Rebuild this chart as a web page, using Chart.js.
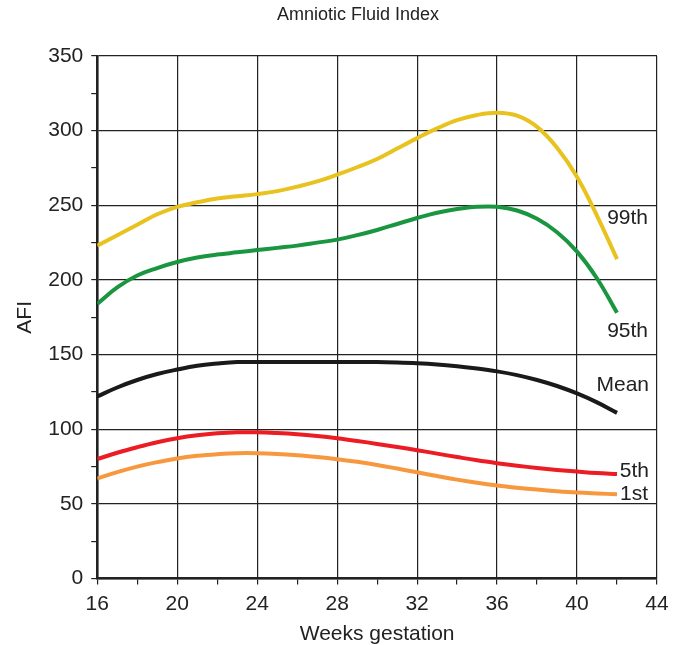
<!DOCTYPE html>
<html>
<head>
<meta charset="utf-8">
<script src="https://cdn.jsdelivr.net/npm/chart.js@4/dist/chart.umd.min.js"></script>
<style>
    html, body { margin: 0; padding: 0; background: #fff; }
    #wrap { width: 679px; height: 645px; }
</style>
</head>
<body>
<div id="wrap"><canvas id="afi"></canvas></div>
<script>
    // weeks of gestation
    var weeks = [16, 17, 18, 19, 20, 21, 22, 23, 24, 25, 26, 27, 28, 29, 30, 31, 32, 33, 34, 35, 36, 37, 38, 39, 40, 41, 42];

    // AFI centiles (mm)
    var p99 = [223, 230, 237, 244, 249, 252, 254.5, 256, 257.5, 259.5, 262.5, 266, 270.5, 275.5, 281, 288, 295, 301.5, 307, 310.5, 312, 310, 302.5, 288.5, 269, 243, 214];
    var p95 = [184, 195, 203, 208, 212, 215, 217, 218.5, 220, 221.5, 223, 225, 227, 230, 233.5, 237.5, 241.5, 245, 247.5, 249, 249, 246.5, 241, 232, 219, 201, 178];
    var mean = [122, 128, 133, 137, 140, 142.5, 144, 145, 145, 145, 145, 145, 145, 145, 145, 144.7, 144.2, 143.4, 142.2, 140.7, 138.8, 136.3, 133, 129, 124, 118, 111];
    var p5 = [80, 84.3, 88, 91.3, 94, 96, 97.3, 98, 98, 97.5, 96.7, 95.5, 94, 92.2, 90.2, 88.1, 86, 83.7, 81.4, 79.2, 77.3, 75.6, 74.1, 72.8, 71.7, 70.7, 70];
    var p1 = [67, 71.3, 75, 78, 80.5, 82.2, 83.3, 84, 84, 83.5, 82.6, 81.4, 80, 78.2, 76.1, 73.7, 71.2, 68.7, 66.3, 64.2, 62.4, 60.9, 59.6, 58.5, 57.6, 57, 56.5];

    // end labels: text, week, value
    var labelText = ['99th', '95th', 'Mean', '5th', '1st'];
    var labelWeek = [43.55, 43.55, 43.6, 43.6, 43.55];
    var labelValue = [241.5, 166, 129.5, 72, 56.5];

    var xTicks = [16, 20, 24, 28, 32, 36, 40, 44];
    var yTicks = [0, 50, 100, 150, 200, 250, 300, 350];

    var FONT = '"Liberation Sans", Arial, Helvetica, sans-serif';
    var INK = '#222';

    function points(values) {
        return weeks.map(function (w, i) {
            return {x: w, y: values[i]};
        });
    }

    function line(label, values, color) {
        return {
            label: label,
            data: points(values),
            borderColor: color,
            borderWidth: 4,
            pointRadius: 0,
            fill: false,
            tension: 0.4
        };
    }

    //title and curve labels
    var textPlugin = {
        id: 'afiText',
        afterDraw: function (chart) {
            var ctx = chart.ctx;
            var xs = chart.scales.x, ys = chart.scales.y;

            ctx.save();
            ctx.fillStyle = INK;
            ctx.font = '18px ' + FONT;
            ctx.textAlign = 'center';
            ctx.textBaseline = 'middle';
            ctx.fillText('Amniotic Fluid Index', 358, 15);

            ctx.font = '21px ' + FONT;
            ctx.textAlign = 'right';
            labelText.forEach(function (t, i) {
                ctx.fillText(t, xs.getPixelForValue(labelWeek[i]), ys.getPixelForValue(labelValue[i]));
            });
            ctx.restore();
        }
    };

    new Chart(document.getElementById('afi'), {
        type: 'line',
        data: {
            datasets: [
                line('99th', p99, '#E8C21E'),
                line('95th', p95, '#1B9640'),
                line('Mean', mean, '#1A1A1A'),
                line('5th', p5, '#EC1C24'),
                line('1st', p1, '#F7983F')
            ]
        },
        options: {
            responsive: true,
            maintainAspectRatio: false,
            animation: false,
            layout: {
                padding: {top: 56, right: 22, bottom: -2, left: 13}
            },
            plugins: {
                legend: {display: false},
                tooltip: {enabled: false}
            },
            scales: {
                x: {
                    type: 'linear',
                    min: 16,
                    max: 44,
                    afterBuildTicks: function (axis) {
                        var t = [];
                        for (var v = 16; v <= 44; v += 2) t.push({value: v});
                        axis.ticks = t;
                    },
                    border: {display: true, color: INK, width: 2.5},
                    grid: {
                        color: function (c) {
                            return xTicks.indexOf(c.tick.value) >= 0 ? INK : 'rgba(0,0,0,0)';
                        },
                        tickColor: INK,
                        lineWidth: 1.2,
                        tickLength: 6
                    },
                    ticks: {
                        color: INK,
                        font: {family: FONT, size: 21},
                        padding: 7,
                        maxRotation: 0,
                        autoSkip: false,
                        callback: function (v) {
                            return xTicks.indexOf(v) >= 0 ? String(v) : '';
                        }
                    },
                    title: {
                        display: true,
                        text: 'Weeks gestation',
                        color: INK,
                        font: {family: FONT, size: 21},
                        padding: {top: -2, bottom: 0}
                    }
                },
                y: {
                    min: 0,
                    max: 350,
                    afterBuildTicks: function (axis) {
                        var t = [];
                        for (var v = 0; v <= 350; v += 25) t.push({value: v});
                        axis.ticks = t;
                    },
                    border: {display: true, color: INK, width: 2.5},
                    grid: {
                        color: function (c) {
                            return yTicks.indexOf(c.tick.value) >= 0 ? INK : 'rgba(0,0,0,0)';
                        },
                        tickColor: INK,
                        lineWidth: 1.2,
                        tickLength: 6
                    },
                    ticks: {
                        color: INK,
                        font: {family: FONT, size: 21},
                        padding: 8,
                        autoSkip: false,
                        callback: function (v) {
                            return yTicks.indexOf(v) >= 0 ? String(v) : '';
                        }
                    },
                    title: {
                        display: true,
                        text: 'AFI',
                        color: INK,
                        font: {family: FONT, size: 21},
                        padding: {top: 0, bottom: 2}
                    }
                }
            }
        },
        plugins: [textPlugin]
    });
</script>
</body>
</html>
